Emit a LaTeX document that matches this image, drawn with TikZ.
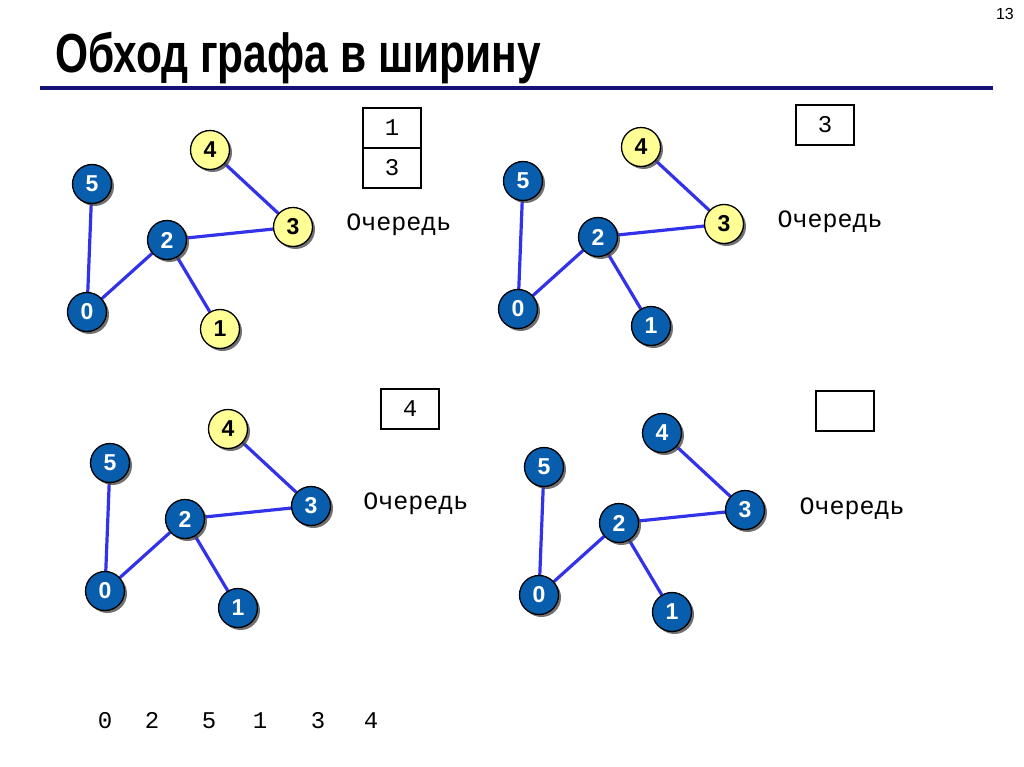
\documentclass[tikz,border=0pt]{standalone}
\usepackage{fontspec}
\setmainfont{Liberation Sans}
\newfontfamily\monof{Liberation Mono}
\usetikzlibrary{shadows}
\definecolor{nodeblue}{RGB}{8,94,172}
\definecolor{nodeyel}{RGB}{255,255,150}
\definecolor{edgeblue}{RGB}{50,50,235}
\definecolor{rulenavy}{RGB}{20,20,120}
\pgfdeclarelayer{background}
\pgfsetlayers{background,main}
\tikzset{
  vtx/.style={circle, draw=black, line width=1.3pt, minimum size=39pt, inner sep=0pt,
    font=\fontsize{23}{23}\selectfont\bfseries,
    drop shadow={shadow xshift=2.5pt, shadow yshift=-2.5pt, fill=black!70, opacity=0.8}},
  blu/.style={vtx, fill=nodeblue, text=white},
  yel/.style={vtx, fill=nodeyel, text=black},
  edge/.style={draw=edgeblue, line width=3.2pt},
  qcell/.style={draw=black, line width=1.2pt, minimum width=58pt, minimum height=40pt, inner sep=0pt,
    font=\monof\fontsize{24}{24}\selectfont},
  qlabel/.style={font=\monof\fontsize{25}{25}\selectfont, inner sep=0pt, anchor=base},
  seq/.style={font=\monof\fontsize{24}{24}\selectfont, inner sep=0pt, anchor=base}
}
\newcommand\grph[6]{%
  \begin{scope}[shift={(#2,#3)}]
    \node[blu] (#1-5) at (92,184) {5};
    \node[#4] (#1-4) at (210,150) {4};
    \node[blu] (#1-2) at (167,240) {2};
    \node[#5] (#1-3) at (293,227) {3};
    \node[blu] (#1-0) at (87,312) {0};
    \node[#6] (#1-1) at (220,329) {1};
    \begin{pgfonlayer}{background}
      \draw[edge] (#1-5) -- (#1-0);
      \draw[edge] (#1-0) -- (#1-2);
      \draw[edge] (#1-2) -- (#1-1);
      \draw[edge] (#1-2) -- (#1-3);
      \draw[edge] (#1-3) -- (#1-4);
    \end{pgfonlayer}
  \end{scope}}
\begin{document}
\begin{tikzpicture}[x=1pt,y=-1pt]
\useasboundingbox (0,0) rectangle (1024,767);
% title
\node[anchor=base west, inner sep=0pt, font=\fontsize{50}{50}\selectfont\bfseries, xscale=0.85, yscale=1.1] (title) at (55,73) {Обход графа в ширину};
\node[anchor=north east, inner sep=0pt, font=\fontsize{16}{16}\selectfont] (pg) at (1014,8) {13};
\coordinate (rl) at (40,88);
\coordinate (rr) at (993,88);
\draw[rulenavy, line width=4pt] (rl) -- (rr);
% graphs
\grph{a}{0}{0}{yel}{yel}{yel}
\grph{b}{431}{-3}{yel}{yel}{blu}
\grph{c}{18}{279}{yel}{blu}{blu}
\grph{d}{452}{283}{blu}{blu}{blu}
% queues
\node[qcell] (qa1) at (392,128) {1};
\node[qcell] (qa2) at (392,168) {3};
\node[qlabel] (la) at (399,231) {Очередь};
\node[qcell] (qb1) at (825,125) {3};
\node[qlabel] (lb) at (830,227) {Очередь};
\node[qcell] (qc1) at (410,409) {4};
\node[qcell] (qd1) at (845,411) {};
\node[qlabel] (lc) at (416,509) {Очередь};
\node[qlabel] (ld) at (852,514) {Очередь};
% sequence
\node[seq] (s0) at (105,728) {0};
\node[seq] (s1) at (152,728) {2};
\node[seq] (s2) at (209,728) {5};
\node[seq] (s3) at (260,728) {1};
\node[seq] (s4) at (318,728) {3};
\node[seq] (s5) at (371,728) {4};
\end{tikzpicture}
\end{document}
